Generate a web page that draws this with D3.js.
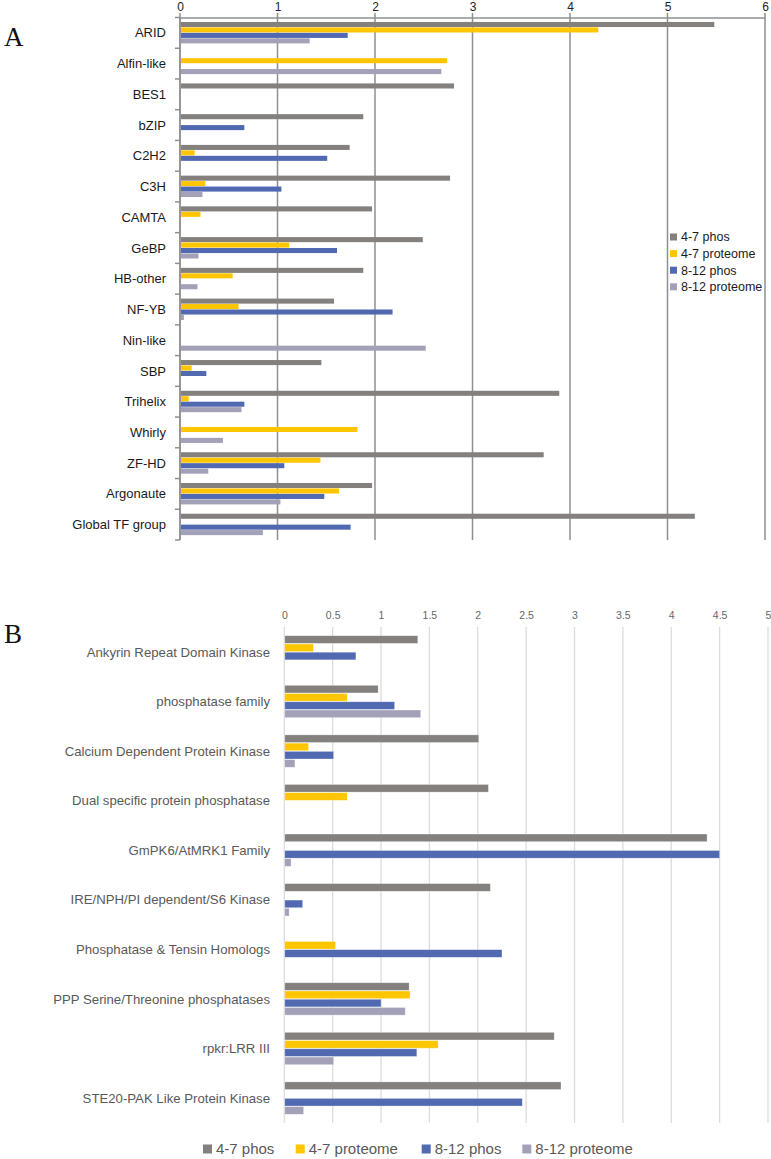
<!DOCTYPE html>
<html><head><meta charset="utf-8">
<script src="https://cdn.jsdelivr.net/npm/d3@7"></script>
<style>body{margin:0;background:#fff}svg{display:block}</style>
</head><body>
<svg id="c" width="771" height="1159"></svg>
<script>
const seriesNames = ["4-7 phos","4-7 proteome","8-12 phos","8-12 proteome"];
const seriesColors = ["#83807d","#ffc600","#5069b1","#a3a1b8"];

// Panel A
const catsA = ["ARID","Alfin-like","BES1","bZIP","C2H2","C3H","CAMTA","GeBP","HB-other","NF-YB","Nin-like","SBP","Trihelix","Whirly","ZF-HD","Argonaute","Global TF group"];
const a47phos  = [5.48,0,2.81,1.88,1.74,2.77,1.97,2.49,1.88,1.58,0,1.45,3.89,0,3.73,1.97,5.28];
const a47prot  = [4.29,2.74,0,0,0.15,0.26,0.21,1.12,0.54,0.60,0,0.12,0.09,1.82,1.44,1.63,0];
const a812phos = [1.72,0,0,0.66,1.51,1.04,0,1.61,0,2.18,0,0.27,0.66,0,1.07,1.48,1.75];
const a812prot = [1.33,2.68,0,0,0,0.23,0,0.19,0.18,0.04,2.52,0,0.63,0.44,0.29,1.03,0.85];
const ticksA = [0,1,2,3,4,5,6];

// Panel B
const catsB = ["Ankyrin Repeat Domain Kinase","phosphatase family","Calcium Dependent Protein Kinase","Dual specific protein phosphatase","GmPK6/AtMRK1 Family","IRE/NPH/PI dependent/S6 Kinase","Phosphatase & Tensin Homologs","PPP Serine/Threonine phosphatases","rpkr:LRR III","STE20-PAK Like Protein Kinase"];
const b47phos  = [1.38,0.97,2.01,2.11,4.37,2.13,0,1.29,2.79,2.86];
const b47prot  = [0.30,0.65,0.25,0.65,0,0,0.53,1.30,1.59,0];
const b812phos = [0.74,1.14,0.51,0,4.50,0.19,2.25,1.00,1.37,2.46];
const b812prot = [0,1.41,0.11,0,0.07,0.05,0,1.25,0.51,0.20];
const ticksB = [0,0.5,1,1.5,2,2.5,3,3.5,4,4.5,5];

const svg = d3.select("#c");
const font = "'Liberation Sans', Arial, sans-serif";

function rows(cats, arrs){
  return cats.map((c,i)=>({cat:c, vals: arrs.map((a,j)=>({s:seriesNames[j], v:a[i], j}))}));
}

// ---------- Panel A ----------
{
  const x = d3.scaleLinear().domain([0,6]).range([180,765]);
  const y = d3.scaleBand().domain(catsA).range([17.5,540]).paddingInner(0.29).paddingOuter(0.145);
  const yi = d3.scaleBand().domain(seriesNames).range([0,y.bandwidth()]);
  const g = svg.append("g");
  const step = (540-17.5)/catsA.length;
  g.selectAll("line.grid").data(x.ticks(6)).join("line")
    .attr("x1",d=>x(d)).attr("x2",d=>x(d)).attr("y1",13).attr("y2",540)
    .attr("stroke","#8f8f8f").attr("stroke-width",1.5);
  const ax = g.append("g").attr("transform","translate(0,17.5)")
    .call(d3.axisTop(x).tickValues(ticksA).tickSize(0).tickPadding(7).tickFormat(d3.format("d")));
  ax.select(".domain").attr("stroke","#8f8f8f").attr("stroke-width",1.5);
  ax.selectAll("text").attr("font-family",font).attr("font-size",12).attr("fill","#222");
  const grp = g.selectAll("g.cat").data(rows(catsA,[a47phos,a47prot,a812phos,a812prot])).join("g")
    .attr("transform",d=>`translate(0,${y(d.cat)})`);
  grp.selectAll("rect").data(d=>d.vals.filter(v=>v.v>0)).join("rect")
    .attr("x",x(0)+1).attr("y",d=>yi(d.s)).attr("height",yi.bandwidth()-0.4)
    .attr("width",d=>x(d.v)-x(0)-1).attr("fill",d=>seriesColors[d.j]);
  g.append("line").attr("x1",180).attr("x2",180).attr("y1",17.5).attr("y2",540).attr("stroke","#8f8f8f").attr("stroke-width",1.5);
  g.selectAll("line.ct").data(d3.range(catsA.length+1)).join("line")
    .attr("x1",175).attr("x2",180).attr("y1",i=>17.5+i*step).attr("y2",i=>17.5+i*step)
    .attr("stroke","#8f8f8f").attr("stroke-width",1.5);
  g.selectAll("text.cl").data(catsA).join("text")
    .attr("x",166).attr("y",d=>y(d)+y.bandwidth()/2).attr("dy","0.35em").attr("text-anchor","end")
    .attr("font-family",font).attr("font-size",13).attr("fill","#1a1a1a").text(d=>d);
  const lg = g.append("g").attr("transform","translate(670,237)");
  seriesNames.forEach((s,i)=>{
    lg.append("rect").attr("x",0).attr("y",i*16.6-3.5).attr("width",7).attr("height",7).attr("fill",seriesColors[i]);
    lg.append("text").attr("x",11).attr("y",i*16.6).attr("dy","0.35em").attr("font-family",font).attr("font-size",12.5).attr("fill","#1a1a1a").text(s);
  });
  svg.append("text").attr("x",4).attr("y",46).attr("font-family","'Liberation Serif','DejaVu Serif',serif").attr("font-size",27).attr("fill","#111").text("A");
}

// ---------- Panel B ----------
{
  const x = d3.scaleLinear().domain([0,5]).range([284.3,768]);
  const y = d3.scaleBand().domain(catsB).range([627,1123]).paddingInner(0.335).paddingOuter(0.17);
  const yi = d3.scaleBand().domain(seriesNames).range([0,y.bandwidth()]);
  const g = svg.append("g");
  g.selectAll("line.grid").data(ticksB).join("line")
    .attr("x1",d=>x(d)).attr("x2",d=>x(d)).attr("y1",627).attr("y2",1123)
    .attr("stroke","#dcdcdc").attr("stroke-width",1.3);
  const ax = g.append("g").attr("transform","translate(0,619)")
    .call(d3.axisTop(x).tickValues(ticksB).tickSize(0).tickPadding(0).tickFormat(d=>String(d)));
  ax.select(".domain").remove();
  ax.selectAll("text").attr("font-family",font).attr("font-size",10.5).attr("fill","#666");
  const grp = g.selectAll("g.cat").data(rows(catsB,[b47phos,b47prot,b812phos,b812prot])).join("g")
    .attr("transform",d=>`translate(0,${y(d.cat)})`);
  grp.selectAll("rect").data(d=>d.vals.filter(v=>v.v>0)).join("rect")
    .attr("x",x(0)+0.5).attr("y",d=>yi(d.s)+0.3).attr("height",yi.bandwidth()-0.6)
    .attr("width",d=>x(d.v)-x(0)-0.5).attr("fill",d=>seriesColors[d.j])
    .attr("stroke","#ffffff").attr("stroke-opacity",0.5).attr("stroke-width",0.6);
  g.selectAll("text.cl").data(catsB).join("text")
    .attr("x",270).attr("y",d=>y(d)+y.bandwidth()/2).attr("dy","0.35em").attr("text-anchor","end")
    .attr("font-family",font).attr("font-size",13.2).attr("fill","#595959").text(d=>d);
  const lx = [203,295.7,421.7,522.3];
  seriesNames.forEach((s,i)=>{
    g.append("rect").attr("x",lx[i]).attr("y",1144.5).attr("width",9).attr("height",9).attr("fill",seriesColors[i]);
    g.append("text").attr("x",lx[i]+13).attr("y",1149).attr("dy","0.35em").attr("font-family",font).attr("font-size",15).attr("fill","#595959").text(s);
  });
  svg.append("text").attr("x",4).attr("y",643).attr("font-family","'Liberation Serif','DejaVu Serif',serif").attr("font-size",27).attr("fill","#111").text("B");
}
</script>
</body></html>
